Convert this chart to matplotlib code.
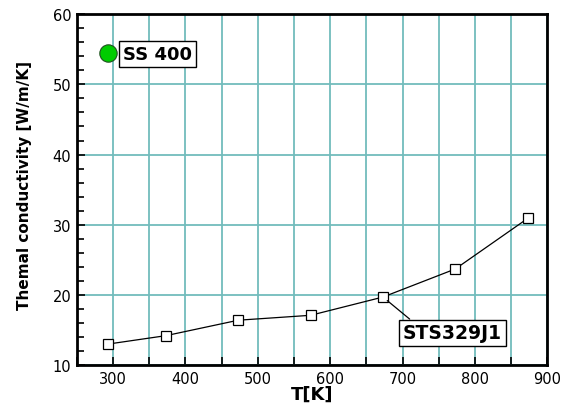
import matplotlib
matplotlib.use("Agg")
import matplotlib.pyplot as plt
from matplotlib.ticker import MultipleLocator

plt.rcParams['font.family'] = ['DejaVu Sans']

temps = [293, 373, 473, 573, 673, 773, 873]
sts_k = [13.0, 14.2, 16.4, 17.1, 19.7, 23.7, 30.9]
ss_t = [293]
ss_k = [54.5]

fig = plt.figure(figsize=(5.7, 4.1), dpi=100)
ax = fig.add_axes([0.135, 0.107, 0.825, 0.856])

ax.set_xlim(250, 900)
ax.set_ylim(10, 60)
ax.xaxis.set_major_locator(MultipleLocator(100))
ax.xaxis.set_minor_locator(MultipleLocator(50))
ax.yaxis.set_major_locator(MultipleLocator(10))
ax.yaxis.set_minor_locator(MultipleLocator(2))

ax.grid(True, which='major', axis='both', color='#72bcbc', linewidth=1.3)
ax.grid(True, which='minor', axis='x', color='#72bcbc', linewidth=1.3)
ax.set_axisbelow(True)

for s in ax.spines.values():
    s.set_linewidth(2)
    s.set_color('black')

ax.tick_params(which='both', direction='in', width=1.2, labelsize=10.5, pad=4)
ax.tick_params(which='major', length=6)
ax.tick_params(axis='y', which='minor', length=5)
ax.tick_params(axis='x', which='minor', length=6)

ax.plot(temps, sts_k, '-', color='black', linewidth=0.9, marker='s',
        markersize=7.5, markerfacecolor='white', markeredgecolor='black',
        markeredgewidth=0.9, zorder=3)
ax.plot(ss_t, ss_k, 'o', markersize=12.5, markerfacecolor='#00cc00',
        markeredgecolor='#205020', markeredgewidth=0.8, zorder=3)

ax.text(314, 54.3, 'SS 400', fontsize=13, fontweight='bold', ha='left', va='center',
        bbox=dict(boxstyle='square,pad=0.22', facecolor='white', edgecolor='black', linewidth=1),
        zorder=4)

ax.annotate('STS329J1', xy=(673, 19.7), xytext=(769, 14.6), fontsize=13.5,
            fontweight='bold', ha='center', va='center',
            bbox=dict(boxstyle='square,pad=0.2', facecolor='white', edgecolor='black', linewidth=1),
            arrowprops=dict(arrowstyle='-', color='black', linewidth=0.9, relpos=(0.12, 1.0),
                            shrinkA=0, shrinkB=4),
            zorder=4)

ax.set_xlabel('T[K]', fontsize=13, fontweight='bold')
ax.set_ylabel('Themal conductivity [W/m/K]', fontsize=11, fontweight='bold')
ax.xaxis.set_label_coords(0.5, -0.056)
ax.yaxis.set_label_coords(-0.096, 0.516)

fig.savefig('out.png', dpi=100)
